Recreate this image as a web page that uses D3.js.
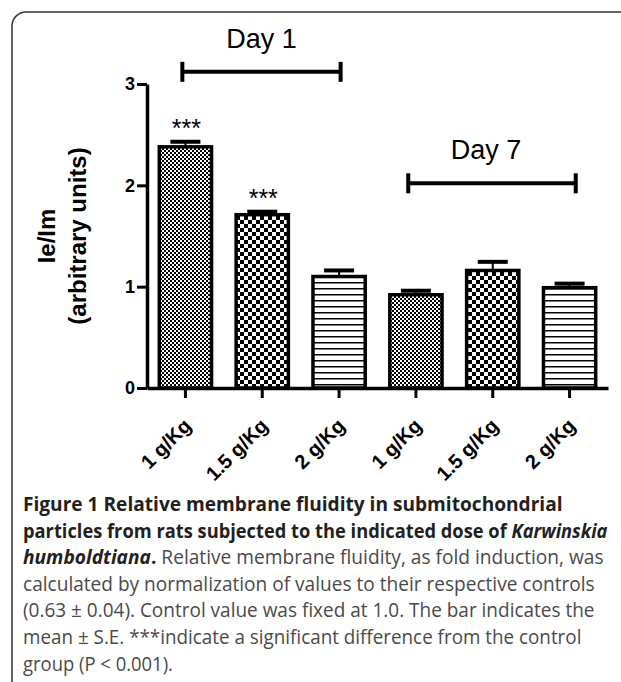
<!DOCTYPE html>
<html>
<head>
<meta charset="utf-8">
<script src="https://cdn.jsdelivr.net/npm/d3@7"></script>
<style>
  body { margin: 0; background: #fff; }
  svg { display: block; }
</style>
</head>
<body>
<svg id="chart" width="621" height="682"></svg>
<script>
// data
const doses = ["1 g/Kg", "1.5 g/Kg", "2 g/Kg", "1 g/Kg", "1.5 g/Kg", "2 g/Kg"];
const means = [2.38, 1.71, 1.10, 0.92, 1.16, 0.99];
const errors = [0.05, 0.03, 0.06, 0.04, 0.085, 0.04];
const fills = ["fine", "coarse", "lines", "fine", "coarse", "lines"];
const stars = ["***", "***", "", "", "", ""];
const yTicks = [0, 1, 2, 3];

const dayLabels = ["Day 1", "Day 7"];
const dayFrom = [-0.04, 2.9];   // in bar-index units
const dayTo = [2.02, 5.08];
const dayLevel = [3.12, 2.02];  // y value of bracket

const captionLines = [
  [["Figure 1 Relative membrane fluidity in submitochondrial", "b"]],
  [["particles from rats subjected to the indicated dose of ", "b"], ["Karwinskia", "bi"]],
  [["humboldtiana", "bi"], [".", "b"], [" Relative membrane fluidity, as fold induction, was", "n"]],
  [["calculated by normalization of values to their respective controls", "n"]],
  [["(0.63 \u00b1 0.04). Control value was fixed at 1.0. The bar indicates the", "n"]],
  [["mean \u00b1 S.E. ***indicate a significant difference from the control", "n"]],
  [["group (P < 0.001).", "n"]]
];

const svg = d3.select("#chart");
const font = "'Liberation Sans', Arial, sans-serif";

// frame
svg.append("rect")
  .attr("x", 12).attr("y", 12)
  .attr("width", 660).attr("height", 720)
  .attr("rx", 14)
  .attr("fill", "none")
  .attr("stroke", "#333")
  .attr("stroke-width", 1.5);

// patterns
const defs = svg.append("defs");
const pFine = defs.append("pattern").attr("id", "fine")
  .attr("patternUnits", "userSpaceOnUse").attr("width", 4).attr("height", 4);
pFine.append("rect").attr("width", 4).attr("height", 4).attr("fill", "#000");
pFine.append("rect").attr("x", 0).attr("y", 0).attr("width", 2).attr("height", 2).attr("fill", "#fff");
pFine.append("rect").attr("x", 2).attr("y", 2).attr("width", 2).attr("height", 2).attr("fill", "#fff");

const pCoarse = defs.append("pattern").attr("id", "coarse")
  .attr("patternUnits", "userSpaceOnUse").attr("width", 8).attr("height", 8);
pCoarse.append("rect").attr("width", 8).attr("height", 8).attr("fill", "#000");
pCoarse.append("rect").attr("x", 0).attr("y", 0).attr("width", 4).attr("height", 4).attr("fill", "#fff");
pCoarse.append("rect").attr("x", 4).attr("y", 4).attr("width", 4).attr("height", 4).attr("fill", "#fff");

const pLines = defs.append("pattern").attr("id", "lines")
  .attr("patternUnits", "userSpaceOnUse").attr("width", 6).attr("height", 6);
pLines.append("rect").attr("width", 6).attr("height", 6).attr("fill", "#fff");
pLines.append("rect").attr("y", 0).attr("width", 6).attr("height", 1.5).attr("fill", "#000");

// scales
const x = d3.scaleBand()
  .domain(d3.range(doses.length))
  .range([147, 608])
  .paddingInner(0.32)
  .paddingOuter(0.16);

const y = d3.scaleLinear()
  .domain([0, 3])
  .range([388, 84]);

const xIdx = d3.scaleLinear()
  .domain([0, doses.length - 1])
  .range([x(0) + x.bandwidth() / 2, x(doses.length - 1) + x.bandwidth() / 2]);

// bars
const bars = svg.append("g");
bars.selectAll("rect")
  .data(means)
  .join("rect")
    .attr("x", (d, i) => x(i))
    .attr("y", d => y(d))
    .attr("width", x.bandwidth())
    .attr("height", d => y(0) - y(d))
    .attr("fill", (d, i) => `url(#${fills[i]})`)
    .attr("stroke", "#000")
    .attr("stroke-width", 3.5);

// error bars (upper only)
const err = svg.append("g").attr("stroke", "#000");
means.forEach((m, i) => {
  const cx = x(i) + x.bandwidth() / 2;
  err.append("line")
    .attr("x1", cx).attr("x2", cx)
    .attr("y1", y(m)).attr("y2", y(m + errors[i]))
    .attr("stroke-width", 2);
  err.append("line")
    .attr("x1", cx - 15).attr("x2", cx + 15)
    .attr("y1", y(m + errors[i])).attr("y2", y(m + errors[i]))
    .attr("stroke-width", 4);
});

// significance stars
svg.append("g").selectAll("text")
  .data(stars)
  .join("text")
    .attr("x", (d, i) => x(i) + x.bandwidth() / 2 + 1)
    .attr("y", (d, i) => y(means[i] + errors[i]) - 5)
    .attr("text-anchor", "middle")
    .attr("font-family", font)
    .attr("font-size", 25)
    .text(d => d);

// y axis
const yAxis = svg.append("g")
  .attr("transform", "translate(147,0)")
  .call(d3.axisLeft(y).tickValues(yTicks).tickFormat(d3.format("d"))
    .tickSize(10).tickSizeOuter(0).tickPadding(2));
yAxis.select(".domain").attr("stroke-width", 3.5);
yAxis.selectAll(".tick line").attr("stroke-width", 3);
yAxis.selectAll(".tick text")
  .attr("font-family", font)
  .attr("font-weight", "bold")
  .attr("font-size", 18)
  .attr("fill", "#000");

// x axis
const xAxis = svg.append("g")
  .attr("transform", `translate(0,${y(0)})`)
  .call(d3.axisBottom(x).tickFormat(i => doses[i]).tickSize(10).tickSizeOuter(0));
xAxis.select(".domain").attr("stroke-width", 3.5);
xAxis.selectAll(".tick line").attr("stroke-width", 3);
xAxis.selectAll(".tick text")
  .attr("font-family", font)
  .attr("font-weight", "bold")
  .attr("font-size", 20)
  .attr("fill", "#000")
  .attr("text-anchor", "end")
  .attr("dy", null)
  .attr("y", null)
  .attr("transform", "translate(7,39) rotate(-45)");

// y title
const yTitle = svg.append("g").attr("font-family", font).attr("font-weight", "bold")
  .attr("font-size", 24).attr("text-anchor", "middle");
yTitle.append("text")
  .attr("transform", `translate(55,${(y(0) + y(3)) / 2}) rotate(-90)`)
  .text("Ie/Im");
yTitle.append("text")
  .attr("transform", `translate(86,${(y(0) + y(3)) / 2}) rotate(-90)`)
  .text("(arbitrary units)");

// day brackets
const br = svg.append("g").attr("stroke", "#000");
dayLabels.forEach((lab, i) => {
  const x1 = xIdx(dayFrom[i]), x2 = xIdx(dayTo[i]), yy = y(dayLevel[i]);
  br.append("line").attr("x1", x1).attr("x2", x2).attr("y1", yy).attr("y2", yy).attr("stroke-width", 4);
  br.append("line").attr("x1", x1).attr("x2", x1).attr("y1", yy - 10).attr("y2", yy + 10).attr("stroke-width", 4);
  br.append("line").attr("x1", x2).attr("x2", x2).attr("y1", yy - 10).attr("y2", yy + 10).attr("stroke-width", 4);
  svg.append("text")
    .attr("x", (x1 + x2) / 2 - (i ? 6 : 0))
    .attr("y", yy - 24)
    .attr("text-anchor", "middle")
    .attr("font-family", font)
    .attr("font-size", 27)
    .attr("fill", "#000")
    .text(lab);
});

// caption
const capLeft = 23;
const capRight = [563, 608, 604, 595, 595, 582, 173];
const capBase = 511, capStep = 26.6;
captionLines.forEach((parts, i) => {
  const t = svg.append("text")
    .attr("font-family", "'Open Sans', 'Noto Sans', sans-serif")
    .attr("font-size", 19.5)
    .attr("x", 0).attr("y", 0);
  parts.forEach(([s, st]) => {
    t.append("tspan")
      .attr("font-weight", st === "n" ? "normal" : "bold")
      .attr("font-style", st === "bi" ? "italic" : "normal")
      .attr("fill", st === "n" ? "#4a4a4a" : "#231f20")
      .text(s);
  });
  const natural = t.node().getComputedTextLength();
  const k = (capRight[i] - capLeft) / natural;
  t.attr("transform", `translate(${capLeft},${capBase + i * capStep}) scale(${k},1)`);
});
</script>
</body>
</html>
